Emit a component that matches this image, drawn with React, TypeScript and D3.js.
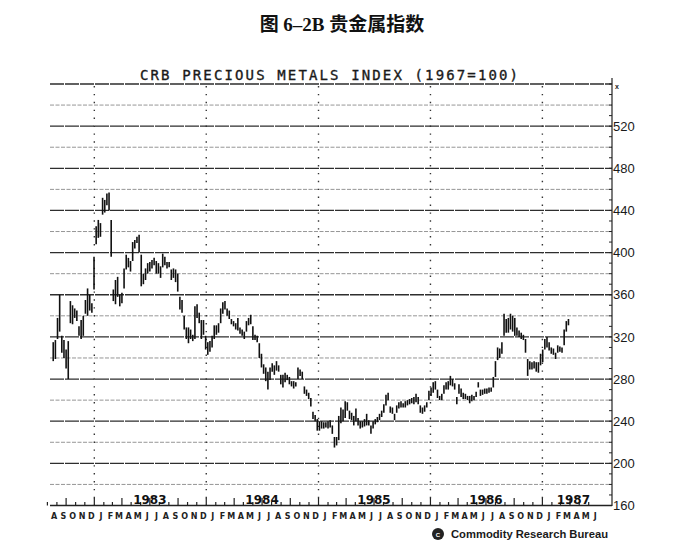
import React from 'react';
import * as d3 from 'd3';

// weekly bars, first week ending 20 Aug 1982
const firstWeek = new Date(1982, 7, 20);

const highs = [
  315, 317, 338, 360, 321, 317, 308, 316, 354, 350,
  347, 345, 330, 336, 340, 355, 366, 360, 352, 396,
  425, 431, 428, 452, 450, 456, 457, 431, 365, 374,
  377, 360, 362, 385, 398, 395, 392, 410, 412, 415,
  417, 398, 380, 385, 390, 391, 393, 395, 392, 390,
  387, 399, 396, 391, 391, 384, 385, 384, 380, 358,
  355, 340, 329, 329, 327, 322, 349, 351, 343, 336,
  336, 321, 315, 316, 321, 331, 331, 333, 347, 353,
  354, 347, 345, 337, 335, 333, 338, 329, 327, 325,
  335, 338, 341, 330, 322, 321, 314, 304, 294, 291,
  287, 291, 295, 293, 297, 293, 284, 284, 286, 284,
  282, 278, 278, 277, 291, 289, 287, 273, 270, 267,
  262, 249, 246, 242, 240, 240, 239, 239, 240, 241,
  236, 225, 225, 245, 253, 251, 259, 258, 250, 248,
  245, 252, 243, 240, 240, 242, 247, 241, 236, 240,
  242, 244, 247, 250, 256, 265, 267, 254, 253, 247,
  255, 258, 259, 257, 259, 260, 261, 262, 263, 266,
  263, 255, 253, 255, 258, 269, 272, 277, 278, 270,
  264, 266, 274, 277, 278, 283, 280, 276, 263, 275,
  271, 267, 266, 264, 264, 265, 264, 268, 277, 270,
  270, 271, 271, 272, 272, 282, 297, 310, 309, 315,
  342, 337, 338, 342, 340, 338, 329, 326, 324, 322,
  318, 299, 297, 296, 297, 296, 296, 304, 308, 318,
  320, 315, 310, 309, 305, 312, 311, 310, 327, 335, 337,
];

const lows = [
  297, 299, 318, 325, 305, 300, 290, 280, 333, 332,
  338, 335, 321, 318, 321, 342, 340, 345, 343, 365,
  408, 414, 415, 436, 438, 445, 440, 396, 354, 351,
  358, 349, 352, 366, 384, 386, 382, 392, 404, 409,
  400, 368, 370, 374, 380, 382, 385, 388, 380, 380,
  376, 386, 388, 385, 386, 374, 376, 372, 363, 346,
  343, 327, 318, 314, 318, 316, 318, 338, 333, 318,
  322, 308, 303, 306, 310, 318, 322, 324, 333, 342,
  346, 340, 337, 332, 330, 327, 326, 323, 321, 318,
  325, 331, 332, 317, 317, 315, 300, 291, 285, 278,
  270, 279, 287, 284, 288, 287, 275, 272, 277, 279,
  275, 273, 271, 273, 280, 283, 280, 266, 264, 261,
  254, 242, 240, 231, 231, 233, 233, 234, 233, 234,
  228, 215, 217, 222, 238, 240, 243, 250, 242, 241,
  236, 240, 236, 233, 234, 235, 236, 236, 228, 233,
  237, 239, 241, 244, 248, 255, 260, 248, 247, 241,
  248, 252, 253, 253, 253, 255, 256, 257, 256, 258,
  256, 248, 247, 249, 253, 260, 264, 267, 270, 262,
  260, 260, 266, 270, 270, 274, 273, 270, 256, 266,
  263, 261, 261, 260, 257, 259, 260, 263, 272, 264,
  265, 266, 266, 267, 268, 272, 282, 298, 300, 304,
  321, 324, 324, 327, 325, 321, 321, 320, 318, 317,
  305, 283, 289, 289, 290, 287, 286, 293, 296, 308,
  310, 307, 304, 303, 299, 305, 306, 305, 312, 325, 331,
];

const yTickLabels = [520, 480, 440, 400, 360, 320, 280, 240, 200, 160];
const yearLabels = ['1983', '1984', '1985', '1986', '1987'];
const monthLetters = ['J', 'F', 'M', 'A', 'M', 'J', 'J', 'A', 'S', 'O', 'N', 'D'];

const W = 700;
const H = 560;

export default function App() {
  const x = d3.scaleTime()
    .domain([new Date(1982, 7, 1), new Date(1987, 7, 16)])
    .range([47.4, 612]);
  const y = d3.scaleLinear().domain([160, 560]).range([505.5, 84]);

  const left = 50;
  const right = 612;

  const bars = highs.map((h, i) => ({
    date: d3.timeWeek.offset(firstWeek, i),
    high: h,
    low: lows[i],
  }));

  const gridVals = d3.range(180, 561, 20);
  const minorTicks = d3.range(160, 561, 10);
  const months = d3.timeMonth.range(new Date(1982, 7, 1), new Date(1987, 6, 1));
  const yearStarts = [1983, 1984, 1985, 1986, 1987].map(yr => new Date(yr, 0, 1));

  const yearLabelPos = (i: number) =>
    i < 4 ? x(new Date(1983 + i, 6, 1)) : x(new Date(1987, 3, 12));

  return (
    <svg width={W} height={H} style={{ position: 'absolute', left: 0, top: 0, background: '#fff' }}>
      {/* header */}
      <text x={342} y={31} textAnchor="middle" fontSize={19} fontWeight={700} fill="#111">
        <tspan fontFamily="Noto Sans CJK SC">图 </tspan>
        <tspan fontFamily="Liberation Serif">6–2B </tspan>
        <tspan fontFamily="Noto Sans CJK SC">贵金属指数</tspan>
      </text>

      <text x={329} y={80} textAnchor="middle" fontFamily="DejaVu Sans Mono" fontSize={14}
        textLength={378} lengthAdjust="spacing" fill="#1a1a1a" stroke="#1a1a1a" strokeWidth={0.35}>
        CRB PRECIOUS METALS INDEX (1967=100)
      </text>

      {/* horizontal grid */}
      {gridVals.map(v => {
        const major = v % 40 === 0;
        return (
          <line key={v} x1={left} x2={right} y1={y(v)} y2={y(v)}
            stroke={major ? '#2e2e2e' : '#8a8a8a'}
            strokeWidth={major ? 1.3 : 0.9}
            strokeDasharray={major ? '14 1' : '4 1.5'} />
        );
      })}

      {/* year dotted lines */}
      {yearStarts.map((d, i) => (
        <line key={i} x1={x(d)} x2={x(d)} y1={86} y2={505}
          stroke="#333" strokeWidth={1.4} strokeDasharray="1.4 6.5" />
      ))}

      {/* right axis */}
      <line x1={right} x2={right} y1={78} y2={506} stroke="#222" strokeWidth={1.2} />
      {minorTicks.map(v => (
        <line key={v} x1={right - 3} x2={right} y1={y(v)} y2={y(v)} stroke="#222" strokeWidth={1} />
      ))}
      <text x={615} y={89} fontSize={7} fontWeight={700} fontFamily="Liberation Sans" fill="#222">x</text>
      {yTickLabels.map(v => (
        <text key={v} x={613} y={y(v)} dy="0.36em" fontFamily="Liberation Sans"
          fontSize={13} fill="#1a1a1a">{v}</text>
      ))}

      {/* bottom axis */}
      <line x1={left} x2={right} y1={505.5} y2={505.5} stroke="#222" strokeWidth={1.3} />
      {months.map((m, i) => {
        const q = m.getMonth() % 3 === 0;
        return (
          <line key={i} x1={x(m)} x2={x(m)} y1={505.5} y2={q ? 498 : 502}
            stroke="#222" strokeWidth={1.2} />
        );
      })}
      {yearLabels.map((t, i) => (
        <text key={t} x={yearLabelPos(i)} y={504} textAnchor="middle"
          fontFamily="DejaVu Sans" fontWeight={700} fontSize={12} fill="#111">{t}</text>
      ))}
      {months.map((m, i) => (
        <text key={i} x={x(d3.timeDay.offset(m, 15)) + 2} y={519} textAnchor="middle"
          fontFamily="DejaVu Sans" fontWeight={700} fontSize={8} fill="#222">
          {monthLetters[m.getMonth()]}
        </text>
      ))}

      {/* price bars */}
      {bars.map((b, i) => (
        <line key={i} x1={x(b.date)} x2={x(b.date)} y1={y(b.high)} y2={y(b.low)}
          stroke="#111" strokeWidth={1.6} />
      ))}

      {/* footer */}
      <circle cx={438} cy={534} r={6} fill="#222" />
      <text x={438} y={537} textAnchor="middle" fontSize={6} fontWeight={700}
        fontFamily="Liberation Sans" fill="#fff">C</text>
      <text x={451} y={538} fontFamily="Liberation Sans" fontWeight={700} fontSize={11}
        textLength={157} lengthAdjust="spacingAndGlyphs" fill="#1a1a1a">
        Commodity Research Bureau
      </text>
    </svg>
  );
}
